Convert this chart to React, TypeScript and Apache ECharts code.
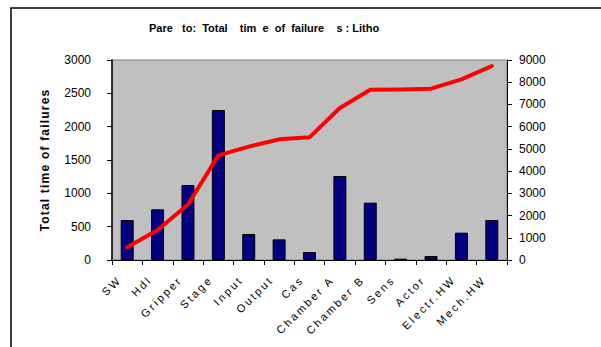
import React, { useEffect, useRef } from "react";
import * as echarts from "echarts";

const categories = ["SW", "Hdl", "Gripper", "Stage", "Input", "Output", "Cas", "Chamber A", "Chamber B", "Sens", "Actor", "Electr.HW", "Mech.HW"];
const failureTime = [600, 760, 1125, 2250, 390, 310, 120, 1260, 860, 20, 60, 410, 600];
const cumulativeTime = [570, 1350, 2500, 4710, 5100, 5430, 5520, 6840, 7660, 7670, 7710, 8130, 8730];
const leftTicks = { min: 0, max: 3000, interval: 500 };
const rightTicks = { min: 0, max: 9000, interval: 1000 };
const titleText = "Pare   to:  Total    tim  e  of  failure    s : Litho";
const yName = "Total time of failures";

const css = `
#chart svg text { white-space: pre; }
#chart svg text[style*="Liberation Sans"]:not([style*="bold"]) { letter-spacing: 2.4px; }
#chart svg text[style*="bold"][style*="Arial"] { letter-spacing: 1.2px; }
`;

export default function App() {
  const ref = useRef<HTMLDivElement>(null);
  useEffect(() => {
    const chart = echarts.init(ref.current!, undefined, { renderer: "svg" });
    chart.setOption({
      animation: false,
      backgroundColor: "#ffffff",
      title: {
        text: titleText,
        left: 144,
        top: 17,
        textStyle: { fontFamily: "Liberation Sans", fontWeight: "bold", fontSize: 11, color: "#000" },
      },
      graphic: [
        {
          type: "rect",
          shape: { x: 11, y: 8, width: 620, height: 360 },
          style: { fill: "none", stroke: "#000", lineWidth: 1.5 },
          silent: true,
        },
      ],
      grid: {
        left: 112,
        top: 60,
        right: 94,
        bottom: 87,
        show: true,
        backgroundColor: "#C0C0C0",
        borderColor: "#808080",
        borderWidth: 1,
      },
      xAxis: {
        type: "category",
        data: categories,
        axisLine: { lineStyle: { color: "#000", width: 1 } },
        axisTick: { show: true, length: 5, alignWithLabel: false, lineStyle: { color: "#000" } },
        axisLabel: {
          interval: 0,
          rotate: 45,
          margin: 10,
          padding: [0, 11, 0, 0],
          fontFamily: "Liberation Sans",
          fontSize: 11,
          color: "#000",
        },
        splitLine: { show: false },
      },
      yAxis: [
        {
          type: "value",
          ...leftTicks,
          name: yName,
          nameLocation: "middle",
          nameRotate: 90,
          nameGap: 61,
          nameTextStyle: { fontFamily: "Arial", fontWeight: "bold", fontSize: 12, color: "#000" },
          axisLine: { show: true, lineStyle: { color: "#000", width: 1.5 } },
          axisTick: { show: true, length: 5, lineStyle: { color: "#000" } },
          axisLabel: { margin: 21, fontFamily: "Arial", fontSize: 12, color: "#000", formatter: (v: number) => String(v) },
          splitLine: { show: false },
        },
        {
          type: "value",
          ...rightTicks,
          position: "right",
          axisLine: { show: true, lineStyle: { color: "#000", width: 1 } },
          axisTick: { show: true, length: 5, lineStyle: { color: "#000" } },
          axisLabel: { margin: 12, fontFamily: "Arial", fontSize: 12, color: "#000", formatter: (v: number) => String(v) },
          splitLine: { show: false },
        },
      ],
      series: [
        {
          type: "bar",
          data: failureTime,
          barWidth: 13,
          itemStyle: { color: "#000080", borderColor: "#000", borderWidth: 1 },
          yAxisIndex: 0,
        },
        {
          type: "line",
          data: cumulativeTime,
          yAxisIndex: 1,
          showSymbol: false,
          symbol: "none",
          lineStyle: { color: "#FF0000", width: 4, cap: "round", join: "round" },
          z: 5,
        },
      ],
    });
    return () => chart.dispose();
  }, []);
  return (
    <>
      <style>{css}</style>
      <div id="chart" ref={ref} style={{ position: "fixed", left: 0, top: 0, width: 601, height: 347 }} />
    </>
  );
}
